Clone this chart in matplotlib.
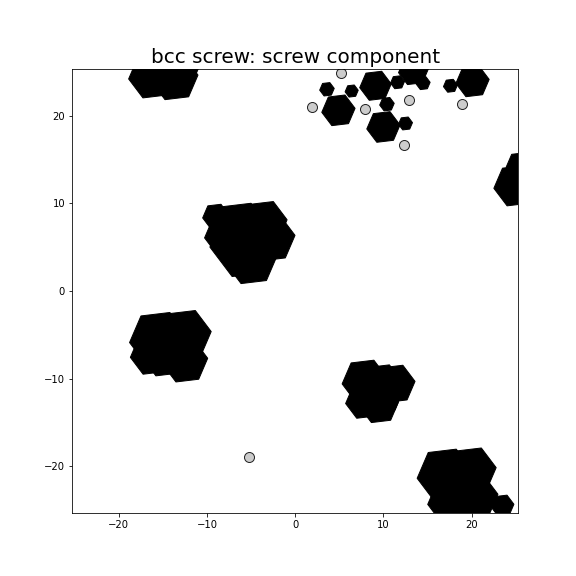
import numpy as np
import matplotlib
matplotlib.use("Agg")
import matplotlib.pyplot as plt
from matplotlib.patches import RegularPolygon

# Hexagon markers: centers and radii (data units)
hex_x = [4.9, 3.6, 6.4, 9.1, 10.4, 10.0, 12.5, 11.6, 14.5, 13.4, 17.6, 20.1,
         -16.2, -13.7, -12.8,
         -6.5, -2.8, -9.0, -5.0, -5.5, -3.5,
         -15.5, -12.5, -12.5, -16.3, -14.3,
         7.9, 11.3, 9.5, 7.8, 9.5,
         17.0, 20.0, 18.0, 20.5, 23.5, 18.6,
         25.0, 25.5]
hex_y = [20.6, 23.0, 22.8, 23.4, 21.3, 18.7, 19.1, 23.8, 23.7, 25.1, 23.4, 23.9,
         24.5, 24.3, 25.5,
         6.5, 6.0, 8.5, 3.5, 5.5, 7.8,
         -5.5, -5.0, -8.0, -7.3, -6.2,
         -10.3, -10.6, -13.0, -12.6, -11.2,
         -21.0, -20.5, -24.0, -23.5, -24.5, -21.8,
         12.0, 14.3]
hex_r = [1.9, 0.83, 0.75, 1.8, 0.83, 1.9, 0.8, 0.8, 0.8, 1.7, 0.8, 1.9,
         2.7, 2.7, 2.0,
         3.8, 2.8, 1.5, 2.9, 4.2, 2.6,
         3.3, 3.0, 2.6, 2.4, 3.8,
         2.6, 2.3, 2.2, 2.1, 3.0,
         3.2, 2.8, 3.0, 2.5, 1.3, 3.6,
         2.5, 1.6]

# Gray circle markers
circ_x = [1.9, 5.2, 7.9, 12.9, 18.9, 12.3, -5.2, 9.2]
circ_y = [21.0, 24.9, 20.7, 21.8, 21.3, 16.7, -19.0, -13.5]

fig = plt.figure(figsize=(8, 8), dpi=72)
ax = fig.add_subplot(111)

ax.plot(circ_x, circ_y, 'o', ms=10, mfc='#cccccc', mec='#222222', mew=1.0,
        zorder=1, ls='none')

for x, y, r in zip(hex_x, hex_y, hex_r):
    ax.add_patch(RegularPolygon((x, y), numVertices=6, radius=r,
                                orientation=np.pi / 6 + 0.12,
                                facecolor='black', edgecolor='black', zorder=2))

ax.set_xlim(-25.3, 25.3)
ax.set_ylim(-25.3, 25.3)
ax.set_xticks([-20, -10, 0, 10, 20])
ax.set_yticks([-20, -10, 0, 10, 20])
ax.set_title('bcc screw: screw component', fontsize=20)

fig.savefig('out.png', dpi=72)
